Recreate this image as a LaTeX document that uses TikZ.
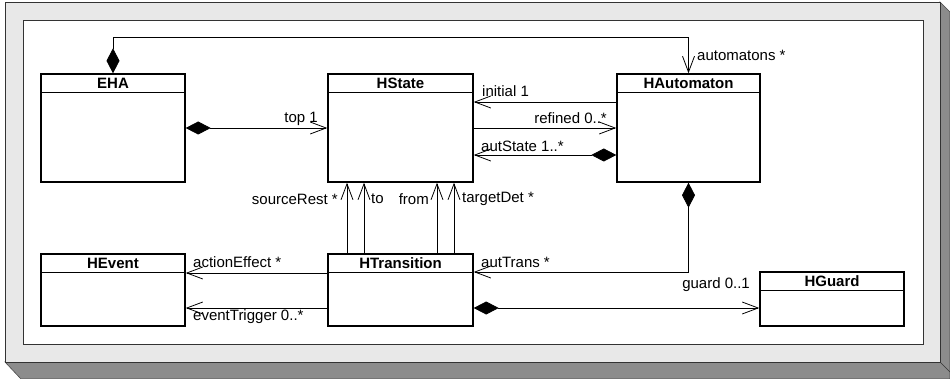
\documentclass[tikz,border=0pt]{standalone}
\usepackage{fontspec}
\setmainfont{Liberation Sans}
\usetikzlibrary{arrows.meta}
\definecolor{framegray}{HTML}{E8E8E8}
\definecolor{shadowgray}{HTML}{8C8C8C}
\begin{document}
\begin{tikzpicture}[x=1pt,y=-1pt,
  umlbox/.style={draw=black,line width=1.4pt,fill=white,inner sep=0pt,rectangle},
  title/.style={font=\fontsize{15}{18}\selectfont\bfseries,inner sep=0pt},
  lbl/.style={font=\fontsize{15}{18}\selectfont,inner sep=0pt},
  conn/.style={line width=0.8pt},
  nav/.style={conn,-{Straight Barb[length=16pt,width=12pt,line width=0.8pt]}},
  comp/.style={conn,{Diamond[length=25pt,width=13pt]}-{Straight Barb[length=16pt,width=12pt,line width=0.8pt]}}
]
\useasboundingbox (0,0) rectangle (950,379);
% shadow
\fill[shadowgray,draw=black!70,line width=0.6pt] (940,2) -- (950,12) -- (950,379) -- (21,379) -- (5,362) -- (940,362) -- cycle;
\draw[black!80,line width=0.6pt] (940,362) -- (950,372);
% outer frame
\draw[fill=framegray,draw=black!80,line width=0.8pt] (5,2) rectangle (940,362);
% inner frame
\draw[fill=white,draw=black!80,line width=0.8pt] (23,20) rectangle (923,344);

% boxes
\node[umlbox,minimum width=144pt,minimum height=108pt] (eha) at (113,128) {};
\node[umlbox,minimum width=145pt,minimum height=108pt] (hstate) at (400.5,128) {};
\node[umlbox,minimum width=143pt,minimum height=108pt] (hauto) at (688.5,128) {};
\node[umlbox,minimum width=144pt,minimum height=72pt] (hevent) at (113,290) {};
\node[umlbox,minimum width=145pt,minimum height=72pt] (htrans) at (400.5,290) {};
\node[umlbox,minimum width=144pt,minimum height=54pt] (hguard) at (832,299) {};

\foreach \b in {eha,hstate,hauto,hevent,htrans,hguard}{
  \draw[line width=1pt] ([yshift=-19pt]\b.north west) -- ([yshift=-19pt]\b.north east);
}
\node[title] (teha) at ([yshift=-10pt]eha.north) {EHA};
\node[title] (thstate) at ([yshift=-10pt]hstate.north) {HState};
\node[title] (thauto) at ([yshift=-10pt]hauto.north) {HAutomaton};
\node[title] (thevent) at ([yshift=-10pt]hevent.north) {HEvent};
\node[title] (thtrans) at ([yshift=-10pt]htrans.north) {HTransition};
\node[title] (thguard) at ([yshift=-10pt]hguard.north) {HGuard};

% connectors
\draw[comp] (eha.north) -- ++(0,-36) coordinate (c1) -| (hauto.north);
\draw[comp] (eha.east) -- (hstate.west);
\draw[nav] ([yshift=26pt]hauto.west) -- ([yshift=26pt]hstate.east);
\draw[nav] (hstate.east) -- (hauto.west);
\draw[comp] ([yshift=-27pt]hauto.west) -- ([yshift=-27pt]hstate.east);
\draw[comp] (hauto.south) |- ([yshift=18pt]htrans.east);
\draw[comp] ([yshift=-18pt]htrans.east) -- ([yshift=-9pt]hguard.west);
\draw[nav] ([yshift=17pt]htrans.west) -- ([yshift=17pt]hevent.east);
\draw[nav] ([yshift=-18pt]htrans.west) -- ([yshift=-18pt]hevent.east);
\foreach \dx in {-53.5,-36.5,36.5,53.5}{
  \draw[nav] ([xshift=\dx pt]htrans.north) -- ([xshift=\dx pt]hstate.south);
}

% labels
\node[lbl,anchor=west] (lautom) at (697,55) {automatons *};
\node[lbl,anchor=east] (ltop) at (318,119) {top 1};
\node[lbl,anchor=west] (linit) at (482,91) {initial 1};
\node[lbl,anchor=east] (lref) at (607,118) {refined 0..*};
\node[lbl,anchor=west] (laut) at (481,146) {autState 1..*};
\node[lbl,anchor=east] (lsrc) at (338,199) {sourceRest *};
\node[lbl,anchor=west] (lto) at (371,199) {to};
\node[lbl,anchor=east] (lfrom) at (429,199) {from};
\node[lbl,anchor=west] (ltgt) at (462,199) {targetDet *};
\node[lbl,anchor=west] (ltrans) at (481,262) {autTrans *};
\node[lbl,anchor=west] (lact) at (193,262) {actionEffect *};
\node[lbl,anchor=west] (lev) at (193,317) {eventTrigger 0..*};
\node[lbl,anchor=east] (lguard) at (750,285) {guard 0..1};
\end{tikzpicture}
\end{document}
